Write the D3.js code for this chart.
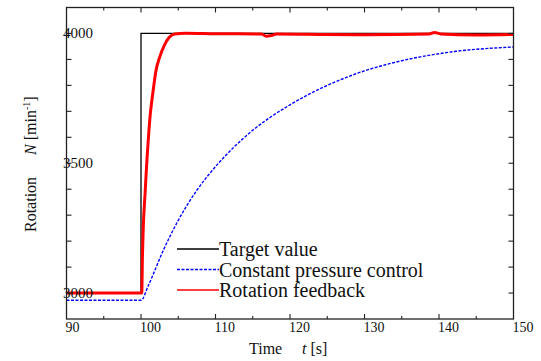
<!DOCTYPE html>
<html>
<head>
<meta charset="utf-8">
<script src="https://cdn.jsdelivr.net/npm/d3@7"></script>
<style>
  body { margin: 0; background: #fff; }
  text { font-family: "Liberation Serif", "Times New Roman", serif; fill: #111; }
</style>
</head>
<body>
<svg id="chart" width="541" height="361"></svg>
<script>
// target step
var timeTarget = [90, 100, 100, 150];
var target = [3000, 3000, 4000, 4000];

// constant pressure control
var timeConst = [90, 95, 100, 101, 103, 105, 107.5, 110, 112.5, 115, 117.5, 120, 122.5, 125, 127.5, 130, 132.5, 135, 137.5, 140, 142.5, 145, 147.5, 150];
var constPressure = [2972, 2972, 2972, 3030, 3165, 3280, 3396, 3487, 3563, 3627, 3680, 3725, 3765, 3800, 3830, 3856, 3877, 3895, 3910, 3922, 3932, 3939, 3944, 3948];

// rotation feedback
var timeFeedback = [90, 100.1, 100.2, 100.3, 100.55, 100.8, 101.05, 101.25, 101.45, 101.7, 102.0, 102.5, 103.1, 103.8, 104.5, 106, 110, 116.2, 116.8, 117.5, 118.2, 125, 130, 138.7, 139.4, 140.2, 145, 150];
var rotFeedback = [3000, 3000, 3150, 3250, 3385, 3515, 3620, 3690, 3740, 3795, 3855, 3908, 3952, 3985, 3998, 4001, 3999, 3998, 3989, 3992, 3998, 3996, 3995, 3998, 4004, 3998, 3994, 3996];

var xTicks = [90, 100, 110, 120, 130, 140, 150];
var yTicks = [3000, 3500, 4000];
var legendNames = ['Target value', 'Constant pressure control', 'Rotation feedback'];

(function () {
  var mLeft = 66.5, mRight = 513.5, mTop = 7.5, mBottom = 319;
  var svg = d3.select('#chart');

  var x = d3.scaleLinear().domain([90, 150]).range([mLeft, mRight]);
  var y = d3.scaleLinear().domain([2900, 4100]).range([mBottom, mTop]);

  svg.append('clipPath').attr('id', 'clip')
    .append('rect').attr('x', mLeft).attr('y', mTop)
    .attr('width', mRight - mLeft).attr('height', mBottom - mTop);

  var plot = svg.append('g').attr('clip-path', 'url(#clip)');

  function zip(ts, vs) { return ts.map(function (t, i) { return [t, vs[i]]; }); }

  var line = d3.line().x(function (d) { return x(d[0]); }).y(function (d) { return y(d[1]); });
  var smooth = d3.line().curve(d3.curveMonotoneX)
    .x(function (d) { return x(d[0]); }).y(function (d) { return y(d[1]); });

  plot.append('path').datum(zip(timeTarget, target))
    .attr('d', line).attr('fill', 'none').attr('stroke', '#000').attr('stroke-width', 1.3);

  plot.append('path').datum(zip(timeConst, constPressure))
    .attr('d', smooth).attr('fill', 'none').attr('stroke', '#0000ff')
    .attr('stroke-width', 1.4).attr('stroke-dasharray', '3,1.5');

  plot.append('path').datum(zip(timeFeedback, rotFeedback))
    .attr('d', smooth).attr('fill', 'none').attr('stroke', '#ff0000')
    .attr('stroke-width', 3);

  // frame
  svg.append('rect').attr('x', mLeft).attr('y', mTop)
    .attr('width', mRight - mLeft).attr('height', mBottom - mTop)
    .attr('fill', 'none').attr('stroke', '#222').attr('stroke-width', 1.3);

  // ticks (inside)
  var ax = svg.append('g').attr('stroke', '#222').attr('stroke-width', 1.1);
  d3.range(95, 150, 5).forEach(function (t) {
    var len = t % 10 === 0 ? 5 : 3;
    ax.append('line').attr('x1', x(t)).attr('x2', x(t)).attr('y1', mBottom).attr('y2', mBottom - len);
    ax.append('line').attr('x1', x(t)).attr('x2', x(t)).attr('y1', mTop).attr('y2', mTop + len);
  });
  d3.range(3000, 4100, 100).forEach(function (v) {
    ax.append('line').attr('x1', mLeft).attr('x2', mLeft + 5).attr('y1', y(v)).attr('y2', y(v));
    ax.append('line').attr('x1', mRight).attr('x2', mRight - 5).attr('y1', y(v)).attr('y2', y(v));
  });

  // tick labels
  svg.selectAll('.xl').data(xTicks).enter().append('text')
    .attr('x', function (d) { return x(d) - 1; })
    .attr('y', 332).attr('font-size', 14).attr('text-anchor', 'start')
    .text(function (d) { return d; });

  svg.selectAll('.yl').data(yTicks).enter().append('text')
    .attr('x', 63).attr('y', function (d) { return y(d) + 5; })
    .attr('font-size', 15).attr('text-anchor', 'start')
    .text(function (d) { return d; });

  // axis titles
  var xt = svg.append('text').attr('x', 249).attr('y', 354).attr('font-size', 16);
  xt.append('tspan').text('Time');
  xt.append('tspan').attr('x', 302).attr('font-style', 'italic').text('t');
  xt.append('tspan').text(' [s]');

  var yt = svg.append('text').attr('transform', 'translate(36,232) rotate(-90)').attr('font-size', 16);
  yt.append('tspan').text('Rotation');
  yt.append('tspan').attr('dx', 22).attr('font-style', 'italic').text('N');
  yt.append('tspan').text(' [min');
  yt.append('tspan').attr('dy', -6).attr('font-size', 10).text('-1');
  yt.append('tspan').attr('dy', 6).text(']');

  // legend
  var legColors = ['#000', '#0000ff', '#ff0000'];
  var legDash = [null, '3,1.5', null];
  var legWidth = [1.3, 1.4, 1.6];
  var leg = svg.append('g').attr('transform', 'translate(177,249)');
  legendNames.forEach(function (name, i) {
    var g = leg.append('g').attr('transform', 'translate(0,' + (i * 20.5) + ')');
    g.append('line').attr('x1', 0).attr('x2', 42).attr('y1', 0).attr('y2', 0)
      .attr('stroke', legColors[i]).attr('stroke-width', legWidth[i])
      .attr('stroke-dasharray', legDash[i]);
    g.append('text').attr('x', 42).attr('y', 7).attr('font-size', 20).text(name);
  });
})();
</script>
</body>
</html>
